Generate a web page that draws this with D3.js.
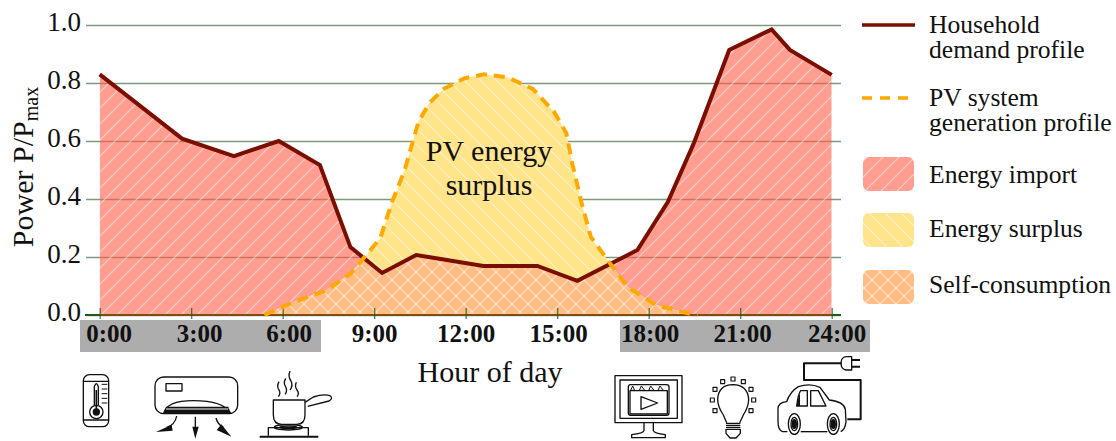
<!DOCTYPE html>
<html>
<head>
<meta charset="utf-8">
<script src="https://cdn.jsdelivr.net/npm/d3@7"></script>
<style>
	html, body { margin: 0; padding: 0; background: #fff; }
	svg { display: block; font-family: "Liberation Serif", serif; }
</style>
</head>
<body>
<div id="chart"></div>
<script>
const demandHours = [0, 2.7, 4.4, 5.87, 7.22, 8.22, 9.26, 10.38, 12.58, 14.35, 15.66, 17.63, 18.63, 19.47, 20.64, 22.03, 22.63, 24];
const demandValues = [0.83, 0.608, 0.548, 0.6, 0.517, 0.234, 0.145, 0.207, 0.169, 0.169, 0.118, 0.224, 0.39, 0.59, 0.914, 0.985, 0.914, 0.828];

const pvHours = [0, 5.4, 6.3, 7.44, 8.25, 9.2, 9.57, 10, 10.45, 10.8, 11.28, 11.95, 12.6, 13.35, 14.2, 14.9, 15.3, 15.5, 15.8, 16.1, 16.65, 17.3, 18.25, 19.4, 19.6, 24];
const pvValues = [0, 0, 0.042, 0.086, 0.145, 0.265, 0.386, 0.5, 0.666, 0.73, 0.78, 0.816, 0.83, 0.82, 0.78, 0.7, 0.627, 0.52, 0.386, 0.27, 0.19, 0.097, 0.034, 0.003, 0, 0];

const yTickValues = [0, 0.2, 0.4, 0.6, 0.8, 1];
const xTickHours = [0, 3, 6, 9, 12, 15, 18, 21, 24];
const xTickLabels = ["0:00", "3:00", "6:00", "9:00", "12:00", "15:00", "18:00", "21:00", "24:00"];

const legendLines = ["Household|demand profile", "PV system|generation profile"];
const legendAreas = ["Energy import", "Energy surplus", "Self-consumption"];

const width = 1116, height = 441;
const colors = { demand: "#7a0e00", pv: "#ffa800", grid: "#5f7f5f", axis: "#1d5c1d", base: "#7d4c10" };

const x = d3.scaleLinear().domain([0, 24]).range([99.7, 831.7]);
const y = d3.scaleLinear().domain([0, 1]).range([315, 25]);

const demand = demandHours.map((h, i) => ({ h: h, v: demandValues[i] }));
const pv = pvHours.map((h, i) => ({ h: h, v: pvValues[i] }));

const svg = d3.select("#chart").append("svg")
	.attr("width", width)
	.attr("height", height);

/* hatch patterns and the clip regions between the two profiles */
const defs = svg.append("defs");

function addHatch(id, fill, rotations) {
	const p = defs.append("pattern")
		.attr("id", id)
		.attr("patternUnits", "userSpaceOnUse")
		.attr("width", 64)
		.attr("height", 64);
	const size = 15;
	p.append("rect").attr("width", 64).attr("height", 64).attr("fill", fill.color).attr("fill-opacity", fill.opacity);
	rotations.forEach((dir) => {
		d3.range(-64, 128, size + 1).forEach((c) => {
			p.append("line")
				.attr("x1", dir > 0 ? c : c + 64).attr("y1", 64)
				.attr("x2", dir > 0 ? c + 64 : c).attr("y2", 0)
				.attr("stroke", "#fff")
				.attr("stroke-opacity", 0.5)
				.attr("stroke-width", 1.2);
		});
	});
}
addHatch("hatch-import", { color: "#ff5c48", opacity: 0.6 }, [1]);
addHatch("hatch-surplus", { color: "#ffe48a", opacity: 1 }, [-1]);
addHatch("hatch-self", { color: "#ffbd85", opacity: 1 }, [1, -1]);

const under = d3.area().x((d) => x(d.h)).y0(y(0)).y1((d) => y(d.v));
const over = d3.area().x((d) => x(d.h)).y0(0).y1((d) => y(d.v));
const profile = d3.line().x((d) => x(d.h)).y((d) => y(d.v));

defs.append("clipPath").attr("id", "above-pv").append("path").attr("d", over(pv));
defs.append("clipPath").attr("id", "above-demand").append("path").attr("d", over(demand));
defs.append("clipPath").attr("id", "under-demand").append("path").attr("d", under(demand));

/* grey bands behind the hour labels */
svg.append("g").attr("class", "bands")
	.selectAll("rect")
	.data([[0, 7.38], [17.38, 25.6]])
	.join("rect")
	.attr("x", (d, i) => i ? 620 : 80)
	.attr("y", 320)
	.attr("width", (d, i) => i ? 250 : 241)
	.attr("height", 32)
	.attr("fill", "#adadad");

/* y axis, its ticks are the gridlines */
const yAxis = svg.append("g")
	.attr("class", "y-axis")
	.attr("transform", "translate(86,0)")
	.call(d3.axisLeft(y).tickValues(yTickValues).tickFormat(d3.format(".1f")).tickSize(-755).tickPadding(5));
yAxis.select(".domain").remove();
yAxis.selectAll("line").attr("stroke", colors.grid).attr("stroke-width", 1.4).attr("stroke-opacity", 0.8);
yAxis.selectAll("text")
	.attr("dy", "0.2em")
	.attr("fill", "#111")
	.style("font-family", "Liberation Serif")
	.style("font-size", "27px");

/* x axis */
svg.append("line")
	.attr("class", "x-domain")
	.attr("x1", 85).attr("x2", 841)
	.attr("y1", y(0)).attr("y2", y(0))
	.attr("stroke", colors.axis)
	.attr("stroke-width", 2);

/* the three energy areas */
svg.append("path").attr("class", "import")
	.attr("d", under(demand))
	.attr("clip-path", "url(#above-pv)")
	.attr("fill", "url(#hatch-import)");
svg.append("path").attr("class", "surplus")
	.attr("d", under(pv))
	.attr("clip-path", "url(#above-demand)")
	.attr("fill", "url(#hatch-surplus)");
svg.append("path").attr("class", "self")
	.attr("d", under(pv))
	.attr("clip-path", "url(#under-demand)")
	.attr("fill", "url(#hatch-self)");

svg.append("line")
	.attr("class", "baseline")
	.attr("x1", x(0)).attr("x2", x(24))
	.attr("y1", y(0)).attr("y2", y(0))
	.attr("stroke", colors.base)
	.attr("stroke-width", 2);

const labelNudge = [9, 8, 6, 0, 0, 1, 1, 2, 5];
const xAxis = svg.append("g")
	.attr("class", "x-axis")
	.attr("transform", `translate(0,${y(0)})`)
	.call(d3.axisBottom(x).tickValues(xTickHours).tickFormat((d, i) => xTickLabels[i]).tickSize(4));
xAxis.select(".domain").remove();
xAxis.selectAll("line")
	.attr("y1", -7)
	.attr("stroke", colors.axis)
	.attr("stroke-opacity", 0.85)
	.attr("stroke-width", 1.2);
xAxis.selectAll("text")
	.attr("dx", (d, i) => labelNudge[i])
	.attr("y", 27)
	.attr("dy", 0)
	.attr("fill", "#111")
	.style("font-family", "Liberation Serif")
	.style("font-size", "25px")
	.style("font-weight", "bold");

/* profiles */
svg.append("path").attr("class", "demand")
	.attr("d", profile(demand))
	.attr("fill", "none")
	.attr("stroke", colors.demand)
	.attr("stroke-width", 4);
svg.append("path").attr("class", "pv")
	.attr("d", profile(pv.filter((d) => d.h >= 5.4 && d.h <= 19.6)))
	.attr("fill", "none")
	.attr("stroke", colors.pv)
	.attr("stroke-width", 4)
	.attr("stroke-dasharray", "11,7");

/* labels */
const serif = (sel, size) => sel.attr("fill", "#111").style("font-size", size + "px");

const yTitle = svg.append("text")
	.attr("transform", "translate(33,167) rotate(-90)")
	.attr("text-anchor", "middle")
	.call(serif, 30);
yTitle.append("tspan").text("Power P/P");
yTitle.append("tspan").attr("dy", 5).style("font-size", "20px").text("max");

svg.append("text")
	.attr("x", 490).attr("y", 382)
	.attr("text-anchor", "middle")
	.call(serif, 30)
	.text("Hour of day");

svg.append("g").attr("class", "area-label")
	.selectAll("text")
	.data(["PV energy", "surplus"])
	.join("text")
	.attr("x", 489)
	.attr("y", (d, i) => 161 + i * 34)
	.attr("text-anchor", "middle")
	.call(serif, 30)
	.text((d) => d);

/* legend */
const legend = svg.append("g").attr("class", "legend");

legend.selectAll("line")
	.data(legendLines)
	.join("line")
	.attr("x1", 862).attr("x2", 915)
	.attr("y1", (d, i) => i ? 98 : 25)
	.attr("y2", (d, i) => i ? 98 : 25)
	.attr("stroke", (d, i) => i ? colors.pv : colors.demand)
	.attr("stroke-width", 3.6)
	.attr("stroke-dasharray", (d, i) => i ? "10,8" : null);

legendLines.forEach((label, i) => {
	label.split("|").forEach((part, j) => {
		legend.append("text")
			.attr("x", 929)
			.attr("y", (i ? 106 : 33) + j * (i ? 24.5 : 25))
			.call(serif, 25.6)
			.text(part);
	});
});

const swatchTop = [157, 213, 270];
const swatchFill = ["hatch-import", "hatch-surplus", "hatch-self"];
const swatchBase = [183, 237, 293];

legend.selectAll("rect")
	.data(legendAreas)
	.join("rect")
	.attr("x", 863)
	.attr("y", (d, i) => swatchTop[i])
	.attr("width", 51)
	.attr("height", 34)
	.attr("rx", 6)
	.attr("fill", (d, i) => `url(#${swatchFill[i]})`);

legend.selectAll("text.area")
	.data(legendAreas)
	.join("text")
	.attr("class", "area")
	.attr("x", 929)
	.attr("y", (d, i) => swatchBase[i])
	.call(serif, 25.6)
	.text((d) => d);

/* appliance icons, traced in 3x crop units */
function icon(ox, oy, draw) {
	const g = svg.append("g")
		.attr("transform", `translate(${ox},${oy}) scale(${1 / 3})`)
		.attr("fill", "none")
		.attr("stroke", "#111")
		.attr("stroke-width", 4)
		.attr("stroke-linejoin", "round");
	draw(g);
}
const stroke = (g, d, w) => g.append("path").attr("d", d).attr("stroke-width", w || 4);
const solid = (g, d) => g.append("path").attr("d", d).attr("fill", "#111").attr("stroke", "none");

/* thermometer */
icon(60, 290, (g) => {
	g.append("rect").attr("x", 70).attr("y", 254).attr("width", 76).attr("height", 156).attr("rx", 18);
	stroke(g, "M70,274H146M70,390H146");
	stroke(g, "M103,345V290Q109,272 115,290V345");
	g.append("circle").attr("cx", 109).attr("cy", 366).attr("r", 20);
	g.append("circle").attr("cx", 109).attr("cy", 366).attr("r", 9).attr("fill", "#111");
	stroke(g, "M109,300V358", 5);
	stroke(g, "M125,283H142M125,297H142M125,311H142M125,325H142M125,339H142", 3);
});

/* air conditioner */
icon(60, 290, (g) => {
	g.append("rect").attr("x", 285).attr("y", 261).attr("width", 248).attr("height", 110).attr("rx", 26);
	g.append("rect").attr("x", 318).attr("y", 281).attr("width", 48).attr("height", 22);
	stroke(g, "M311,370Q320,332 400,332Q490,332 512,370Z");
	solid(g, "M318,350H505L512,370H311Z");
	g.append("path").attr("d", "M318,357H505").attr("stroke", "#fff").attr("stroke-width", 3);
	stroke(g, "M350,378Q345,405 320,412");
	solid(g, "M288,426L335,404L338,422Z");
	stroke(g, "M406,380V415");
	solid(g, "M397,410H416L406,446Z");
	stroke(g, "M468,384Q472,402 490,412");
	solid(g, "M514,440L470,420L484,403Z");
});

/* pot on a stove */
icon(255, 365, (g) => {
	stroke(g, "M55,105H150V150Q150,178 125,178H80Q55,178 55,150Z");
	stroke(g, "M150,112L175,96Q205,86 225,92Q236,100 222,108L158,124");
	stroke(g, "M40,212V188H160V212");
	g.append("ellipse").attr("cx", 100).attr("cy", 187).attr("rx", 42).attr("ry", 8);
	g.append("ellipse").attr("cx", 100).attr("cy", 187).attr("rx", 26).attr("ry", 4);
	stroke(g, "M14,215H190", 6);
	stroke(g, "M72,50Q64,65 72,75Q78,85 70,95");
	stroke(g, "M105,18Q98,35 108,48Q115,62 105,75");
	stroke(g, "M92,40Q84,55 92,65Q98,78 90,88");
	stroke(g, "M124,52Q118,65 126,75Q134,85 126,95");
});

/* monitor */
icon(590, 290, (g) => {
	g.append("rect").attr("x", 75).attr("y", 257).attr("width", 201).attr("height", 141);
	g.append("rect").attr("x", 90).attr("y", 270).attr("width", 172).attr("height", 115);
	g.append("rect").attr("x", 115).attr("y", 284).attr("width", 122).attr("height", 92).attr("rx", 7);
	g.append("rect").attr("x", 120).attr("y", 302).attr("width", 112).attr("height", 70);
	stroke(g, "M128,288L122,301H134ZM154,288L148,301H164ZM182,288L176,301H192ZM210,288L204,301H220Z", 3);
	stroke(g, "M153,320V358L203,339Z");
	stroke(g, "M162,398V422Q160,430 125,434V443H226V434Q192,430 190,422V398");
});

/* light bulb */
icon(590, 290, (g) => {
	stroke(g, "M410,398L400,375Q383,350 383,328Q385,285 429,284Q473,285 476,328Q476,350 460,375L449,398");
	stroke(g, "M408,400H451M408,406H451M408,412H451");
	stroke(g, "M408,418H451V430L438,444H420L408,430Z");
	[[367, 330], [375, 298], [398, 275], [429, 267], [460, 275], [483, 298], [491, 330], [375, 362], [483, 362]]
		.forEach((c) => g.append("rect")
			.attr("x", c[0] - 6).attr("y", c[1] - 6)
			.attr("width", 12).attr("height", 12)
			.attr("stroke-width", 3.5));
});

/* electric car with charging cable */
icon(770, 350, (g) => {
	stroke(g, "M52,245H38Q24,240 24,215L24,175Q25,158 50,155Q60,125 85,110Q120,98 150,112L178,150Q222,155 226,178L228,215Q225,240 212,245");
	stroke(g, "M92,245H172");
	stroke(g, "M80,168Q85,130 92,122H112V168ZM122,122H145L168,168H122Z");
	solid(g, "M80,168Q85,140 90,130V168Z");
	[73, 190].forEach((cx) => {
		g.append("ellipse").attr("cx", cx).attr("cy", 222).attr("rx", 18).attr("ry", 31).attr("fill", "#fff");
		g.append("ellipse").attr("cx", cx).attr("cy", 222).attr("rx", 10).attr("ry", 20);
		g.append("ellipse").attr("cx", cx).attr("cy", 222).attr("rx", 6).attr("ry", 13).attr("fill", "#111");
	});
	stroke(g, "M232,208H272V90H102V40H215", 6);
	stroke(g, "M245,20H228Q213,22 213,40Q213,58 228,60H245Z");
	stroke(g, "M245,30H270M245,50H270", 6);
});
</script>
</body>
</html>
